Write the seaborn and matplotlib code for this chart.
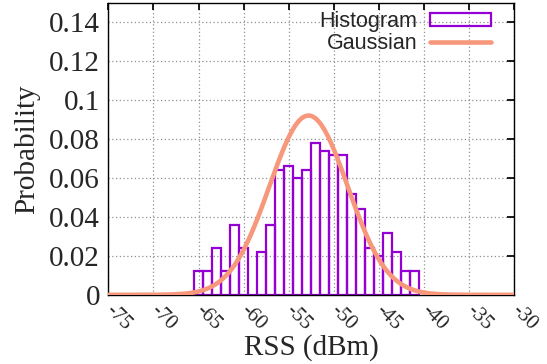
import numpy as np
import pandas as pd
import seaborn as sns
import matplotlib.pyplot as plt
from matplotlib.patches import Patch
from matplotlib.lines import Line2D

# histogram of RSS readings, 1 dBm bins centred on whole dBm values
rss_centers = list(range(-65, -40))
probability = [0.012, 0.012, 0.024, 0.012, 0.036, 0.024, 0.0, 0.022, 0.036,
               0.064, 0.066, 0.060, 0.064, 0.078, 0.074, 0.072, 0.072,
               0.052, 0.044, 0.024, 0.020, 0.032, 0.022, 0.012, 0.012]

# fitted gaussian parameters
gauss_mean = -52.8
gauss_std = 4.33

x_ticks = list(range(-75, -29, 5))
x_tick_labels = [str(v) for v in x_ticks]
y_ticks = [0, 0.02, 0.04, 0.06, 0.08, 0.1, 0.12, 0.14]
y_tick_labels = ['0', '0.02', '0.04', '0.06', '0.08', '0.1', '0.12', '0.14']

purple = '#9400d3'
salmon = '#f7987c'

sns.set_theme(style='white')
plt.rcParams['font.family'] = ['Liberation Serif', 'DejaVu Serif']

fig, ax = plt.subplots(figsize=(5.47, 3.64), dpi=100)
fig.subplots_adjust(left=0.198, right=0.94, bottom=0.19, top=0.992)

df = pd.DataFrame({'rss': rss_centers, 'p': probability})
edges = [c - 0.5 for c in rss_centers] + [rss_centers[-1] + 0.5]
sns.histplot(data=df, x='rss', weights='p', bins=edges, fill=False,
             color=purple, linewidth=1.6, ax=ax, zorder=2)

# gaussian curve
xs = np.linspace(-75, -30, 500)
pdf = np.exp(-0.5 * ((xs - gauss_mean) / gauss_std) ** 2) / (gauss_std * np.sqrt(2 * np.pi))
sns.lineplot(x=xs, y=pdf, color=salmon, linewidth=3.3, ax=ax, zorder=3)

ax.set_xlim(-75, -30)
ax.set_ylim(0, 0.15)
ax.set_xticks(x_ticks)
ax.set_xticklabels(x_tick_labels, rotation=-45, ha='left', va='center',
                   rotation_mode='anchor', fontsize=15)
ax.set_yticks(y_ticks)
ax.set_yticklabels(y_tick_labels, fontsize=21)
ax.tick_params(axis='x', direction='in', length=5, pad=9, top=True, color='black')
ax.tick_params(axis='y', direction='in', length=5, pad=6, right=True, color='black')

ax.grid(True, linestyle=(0, (1, 2)), color='#909090', linewidth=0.9)
ax.set_axisbelow(True)
for s in ax.spines.values():
    s.set_color('black')
    s.set_linewidth(1.0)

ax.set_xlabel('RSS (dBm)', fontsize=21, labelpad=0)
ax.set_ylabel('Probability', fontsize=21, labelpad=6)

handles = [Patch(facecolor='none', edgecolor=purple, linewidth=1.6),
           Line2D([0], [0], color=salmon, linewidth=3.3)]
leg = ax.legend(handles, ['Histogram', 'Gaussian'], loc='upper right',
                bbox_to_anchor=(0.958, 0.995), borderaxespad=0,
                frameon=False, markerfirst=False, handlelength=2.8,
                handleheight=0.55, labelspacing=0.05,
                borderpad=0.3, handletextpad=0.6,
                prop={'family': 'Liberation Sans', 'size': 15.5})

fig.savefig('out.png', dpi=100)
